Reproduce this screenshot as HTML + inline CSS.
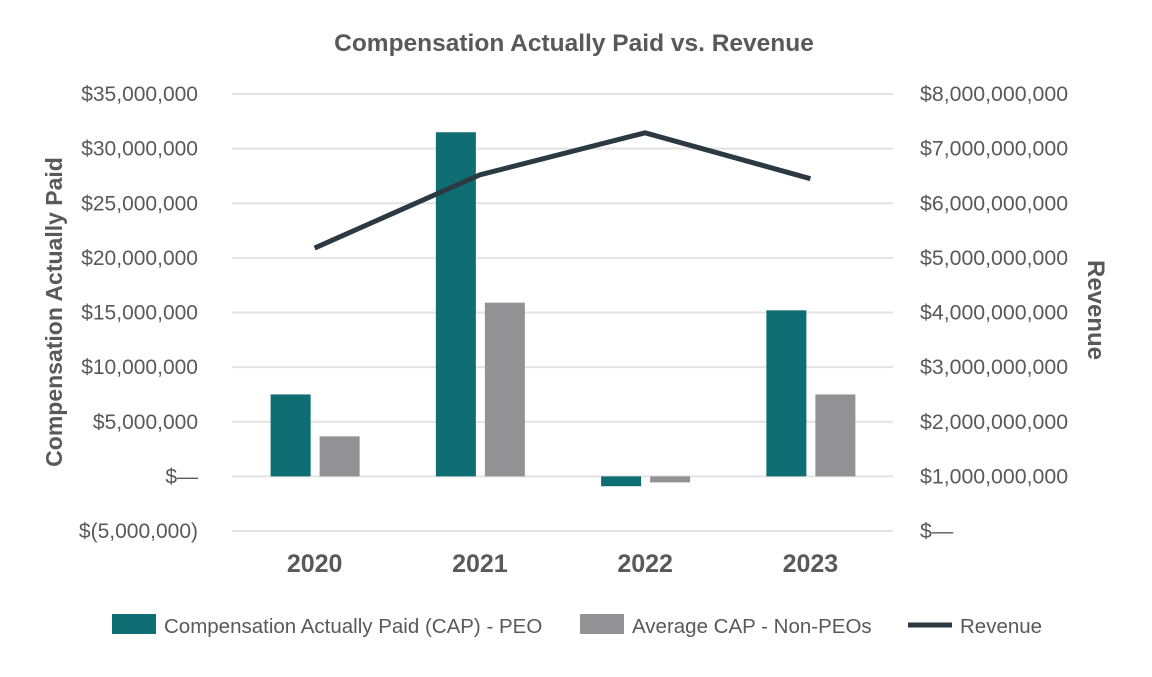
<!DOCTYPE html>
<html><head><meta charset="utf-8"><style>
body{margin:0;background:#fff;}
svg text{font-family:"Liberation Sans",sans-serif;fill:#595959;}
</style></head><body>
<svg width="1152" height="672" viewBox="0 0 1152 672">
<text x="574" y="51" text-anchor="middle" font-size="24.5" font-weight="bold">Compensation Actually Paid vs. Revenue</text>
<g id="grid"></g><g id="bars"></g><g id="line"></g><g id="axes"></g>
<text transform="translate(62,312) rotate(-90)" text-anchor="middle" font-size="23" font-weight="bold">Compensation Actually Paid</text>
<text transform="translate(1088,310) rotate(90)" text-anchor="middle" font-size="24" font-weight="bold">Revenue</text>
<g>
<rect x="112" y="614" width="44" height="20" fill="#0e6e74"/>
<text x="164" y="633" font-size="20.5">Compensation Actually Paid (CAP) - PEO</text>
<rect x="580" y="614" width="44" height="20" fill="#929295"/>
<text x="632" y="633" font-size="20.5">Average CAP - Non-PEOs</text>
<line x1="908" y1="625" x2="952" y2="625" stroke="#2b3a42" stroke-width="5"/>
<text x="960" y="633" font-size="20.5">Revenue</text>
</g>
</svg>
<script>
const categories=["2020","2021","2022","2023"];
const peoValues=[7.5e6,31.5e6,-0.9e6,15.2e6];
const nonPeoValues=[3.66e6,15.9e6,-0.55e6,7.5e6];
const revenueValues=[5.18e9,6.52e9,7.29e9,6.45e9];
const leftTicks=[35e6,30e6,25e6,20e6,15e6,10e6,5e6,0,-5e6];
const leftTickLabels=["$35,000,000","$30,000,000","$25,000,000","$20,000,000","$15,000,000","$10,000,000","$5,000,000","$—","$(5,000,000)"];
const rightTicks=[8e9,7e9,6e9,5e9,4e9,3e9,2e9,1e9,0];
const rightTickLabels=["$8,000,000,000","$7,000,000,000","$6,000,000,000","$5,000,000,000","$4,000,000,000","$3,000,000,000","$2,000,000,000","$1,000,000,000","$—"];
const NS="http://www.w3.org/2000/svg";
const X0=232,X1=893,TOP=94,BOT=531;
const yL=v=>TOP+(35e6-v)/40e6*(BOT-TOP);
const yR=v=>TOP+(8e9-v)/8e9*(BOT-TOP);
const band=(X1-X0)/categories.length;
const xC=i=>X0+band*(i+0.5);
function mk(tag,attrs,parent){const e=document.createElementNS(NS,tag);for(const k in attrs)e.setAttribute(k,attrs[k]);document.getElementById(parent).appendChild(e);return e;}
leftTicks.forEach((t,i)=>{
 const g=mk('line',{x1:X0,x2:X1,y1:yL(t),y2:yL(t),stroke:'#e3e3e3','stroke-width':2},'grid');
 
 
 const l=mk('text',{x:198,y:yL(t)+7,'text-anchor':'end','font-size':21},'axes');l.textContent=leftTickLabels[i];
 
 
});
rightTicks.forEach((t,i)=>{
 const l=mk('text',{x:920,y:yR(t)+7,'font-size':21.3},'axes');l.textContent=rightTickLabels[i];
 
 
});
categories.forEach((c,i)=>{
 const l=mk('text',{x:xC(i),y:572,'text-anchor':'middle','font-size':25,'font-weight':'bold'},'axes');l.textContent=c;
 
 
 [[peoValues,'#0e6e74',-44,'bar-peo'],[nonPeoValues,'#929295',5,'bar-non-peo']].forEach(([arr,col,off,nm])=>{
  const v=arr[i],y0=yL(0),y1=yL(v);
  const r=mk('rect',{x:xC(i)+off,y:Math.min(y0,y1),width:40,height:Math.abs(y1-y0),fill:col},'bars');
  
  
 });
});
const p=mk('polyline',{points:revenueValues.map((v,i)=>xC(i)+','+yR(v)).join(' '),fill:'none',stroke:'#2b3a42','stroke-width':5,'stroke-linejoin':'miter'},'line');


</script>
</body></html>
